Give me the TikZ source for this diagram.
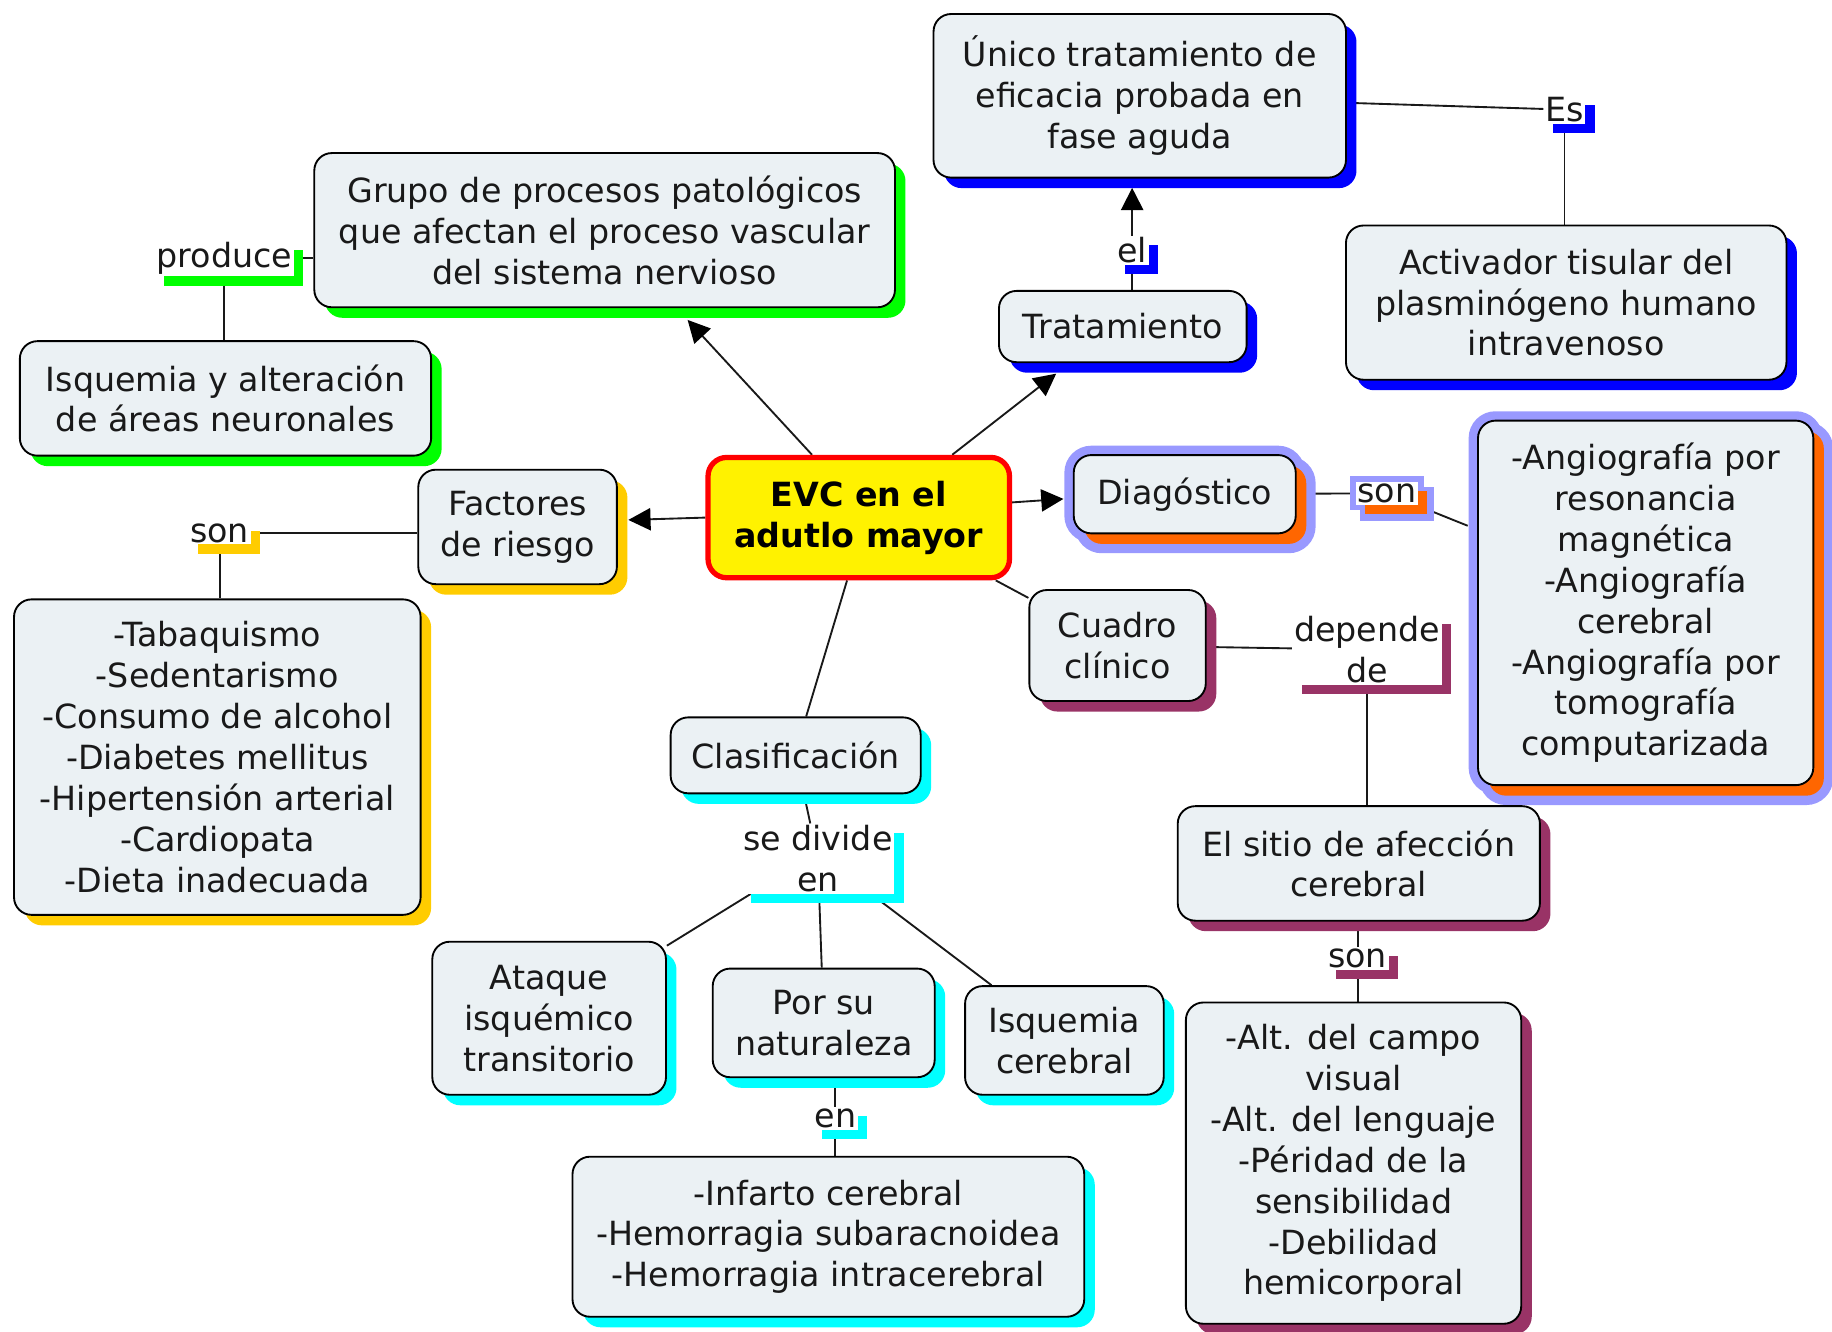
\documentclass[tikz,border=0pt]{standalone}
\usepackage{fontspec}
\setmainfont{DejaVu Sans}
\usetikzlibrary{shadows,calc,arrows.meta,backgrounds}
\definecolor{nfill}{RGB}{235,241,244}
\definecolor{cgreen}{RGB}{0,255,0}
\definecolor{cgold}{RGB}{255,204,0}
\definecolor{cblue}{RGB}{0,0,255}
\definecolor{corange}{RGB}{255,102,0}
\definecolor{clav}{RGB}{153,153,255}
\definecolor{cpurple}{RGB}{153,51,102}
\definecolor{ccyan}{RGB}{0,255,255}
\definecolor{linecol}{RGB}{25,25,25}
\newcommand\mapfont{\fontsize{28.5}{35}\selectfont}
\begin{document}
\begin{tikzpicture}[x=1pt,y=-1pt,
  cnode/.style={draw=black, line width=1.6pt, rounded corners=15pt, fill=nfill, align=center, inner sep=0pt, font=\mapfont, text=black!90,
    general shadow={fill=#1, shadow xshift=9pt, shadow yshift=-9pt}},
  lphrase/.style={fill=white, inner sep=1.5pt, align=center, font=\mapfont, text=black!90,
    general shadow={fill=#1, shadow xshift=8pt, shadow yshift=-8pt}},
  halo/.style={general shadow={fill=clav, draw=clav, line width=#1, shadow xshift=0pt, shadow yshift=0pt},
    general shadow={fill=clav, draw=clav, line width=#1, shadow xshift=9pt, shadow yshift=-9pt}},
  ln/.style={draw=linecol, line width=1.6pt},
  arr/.style={ln, -{Triangle[length=19pt,width=19pt,fill=black,color=black]}},
]
\useasboundingbox (0,0) rectangle (1568,1140);

% central node
\node[draw=red, line width=4.5pt, rounded corners=16pt, fill=yellow, align=center, font=\mapfont\bfseries, text=black,
  minimum width=258pt, minimum height=103pt, inner sep=0pt] (evc) at (735,443) {EVC en el\\adutlo mayor};

% concepts
\node[cnode=cgreen, minimum width=497pt, minimum height=132pt] (grupo) at (517.5,197) {Grupo de procesos patológicos\\que afectan el proceso vascular\\del sistema nervioso};
\node[cnode=cgreen, minimum width=352pt, minimum height=98pt] (isq) at (193,341) {Isquemia y alteración\\de áreas neuronales};
\node[cnode=cgold, minimum width=170pt, minimum height=98pt] (factores) at (443,451) {Factores\\de riesgo};
\node[cnode=cgold, minimum width=348pt, minimum height=270pt] (tabaco) at (186,648) {-Tabaquismo\\-Sedentarismo\\-Consumo de alcohol\\-Diabetes mellitus\\-Hipertensión arterial\\-Cardiopata\\-Dieta inadecuada};
\node[cnode=cblue, minimum width=353pt, minimum height=140pt] (unico) at (975.5,82) {Único tratamiento de\\eficacia probada en\\fase aguda};
\node[cnode=cblue, minimum width=212pt, minimum height=61pt] (trat) at (961,279.5) {Tratamiento};
\node[cnode=cblue, minimum width=377pt, minimum height=132pt] (activ) at (1340.5,259) {Activador tisular del\\plasminógeno humano\\intravenoso};
\node[halo=16pt, cnode=corange, minimum width=190pt, minimum height=67pt] (diag) at (1014,423) {Diagóstico};
\node[halo=16pt, cnode=corange, minimum width=287pt, minimum height=312pt] (angio) at (1408.5,516) {-Angiografía por\\resonancia\\magnética\\-Angiografía\\cerebral\\-Angiografía por\\tomografía\\computarizada};
\node[cnode=cpurple, minimum width=151pt, minimum height=95pt] (cuadro) at (956.5,552.5) {Cuadro\\clínico};
\node[cnode=cpurple, minimum width=310pt, minimum height=98pt] (sitio) at (1163,739) {El sitio de afección\\cerebral};
\node[cnode=cpurple, minimum width=287pt, minimum height=275pt] (alt) at (1158.5,995.5) {-Alt. del campo\\visual\\-Alt. del lenguaje\\-Péridad de la\\sensibilidad\\-Debilidad\\hemicorporal};
\node[cnode=ccyan, minimum width=214pt, minimum height=65pt] (clas) at (681,646.5) {Clasificación};
\node[cnode=ccyan, minimum width=200pt, minimum height=131pt] (ataque) at (470,871.5) {Ataque\\isquémico\\transitorio};
\node[cnode=ccyan, minimum width=190pt, minimum height=93pt] (porsu) at (705,875.5) {Por su\\naturaleza};
\node[cnode=ccyan, minimum width=170pt, minimum height=93pt] (isqcer) at (911,890.5) {Isquemia\\cerebral};
\node[cnode=ccyan, minimum width=438pt, minimum height=137pt] (infarto) at (709,1058.5) {-Infarto cerebral\\-Hemorragia subaracnoidea\\-Hemorragia intracerebral};

% linking phrases
\node[lphrase=cgreen, anchor=base] (produce) at (192,229) {produce};
\node[lphrase=cgold, anchor=base] (sonL) at (188,464) {son};
\node[lphrase=cblue, anchor=base] (el) at (969,225) {el};
\node[lphrase=cblue, anchor=base] (es) at (1339,104) {Es};
\node[halo=10pt, lphrase=corange, anchor=base] (sonR) at (1187,430) {son};
\node[lphrase=cpurple] (dep) at (1170,556) {depende\\de};
\node[lphrase=cpurple, anchor=base] (sonB) at (1162,828) {son};
\node[lphrase=ccyan] (sediv) at (700,735) {se divide\\en};
\node[lphrase=ccyan, anchor=base] (enB) at (715,965) {en};

% connectors
\begin{scope}[on background layer]
\draw[arr] ($(evc.north)+(-40,0)$) -- ($(grupo.south)+(71,10)$);
\draw[arr] ($(evc.north)+(80,0)$) -- ($(trat.south)+(-57,9)$);
\draw[arr] (evc.west) -- ($(factores.east)+(9,-6)$);
\draw[arr] ($(evc.east)+(0,-13)$) -- ($(diag.west)+(-8,4)$);
\draw[ln] ($(evc.south east)+(-14,0)$) -- (cuadro);
\draw[ln] ($(evc.south)+(-10,0)$) -- ($(clas.north)+(9,0)$);
\draw[ln] (produce) -- (produce -| grupo.west);
\draw[ln] (produce) -- (produce |- isq.north);
\draw[ln] (sonL) -- (sonL -| factores.west);
\draw[ln] (sonL) -- (sonL |- tabaco.north);
\draw[ln] (el) -- (el |- trat.north);
\draw[arr] (el) -- ($(el |- unico.south)+(0,8)$);
\draw[ln] (es) -- ($(unico.east)+(0,6)$);
\draw[ln] (es) -- (es |- activ.north);
\draw[ln] (diag) -- (sonR);
\draw[ln] (sonR) -- ($(angio.west)+(-8,-66)$);
\draw[ln] (cuadro) -- (dep);
\draw[ln] (dep) -- (dep |- sitio.north);
\draw[ln] (sonB) -- (sonB |- sitio.south);
\draw[ln] (sonB) -- (sonB |- alt.north);
\draw[ln] (clas) -- (sediv);
\draw[ln] ($(sediv.south west)+(8,0)$) -- (ataque);
\draw[ln] (sediv) -- (porsu);
\draw[ln] ($(sediv.south east)+(-20,0)$) -- (isqcer);
\draw[ln] (enB) -- (enB |- porsu.south);
\draw[ln] (enB) -- (enB |- infarto.north);
\end{scope}
\end{tikzpicture}
\end{document}
